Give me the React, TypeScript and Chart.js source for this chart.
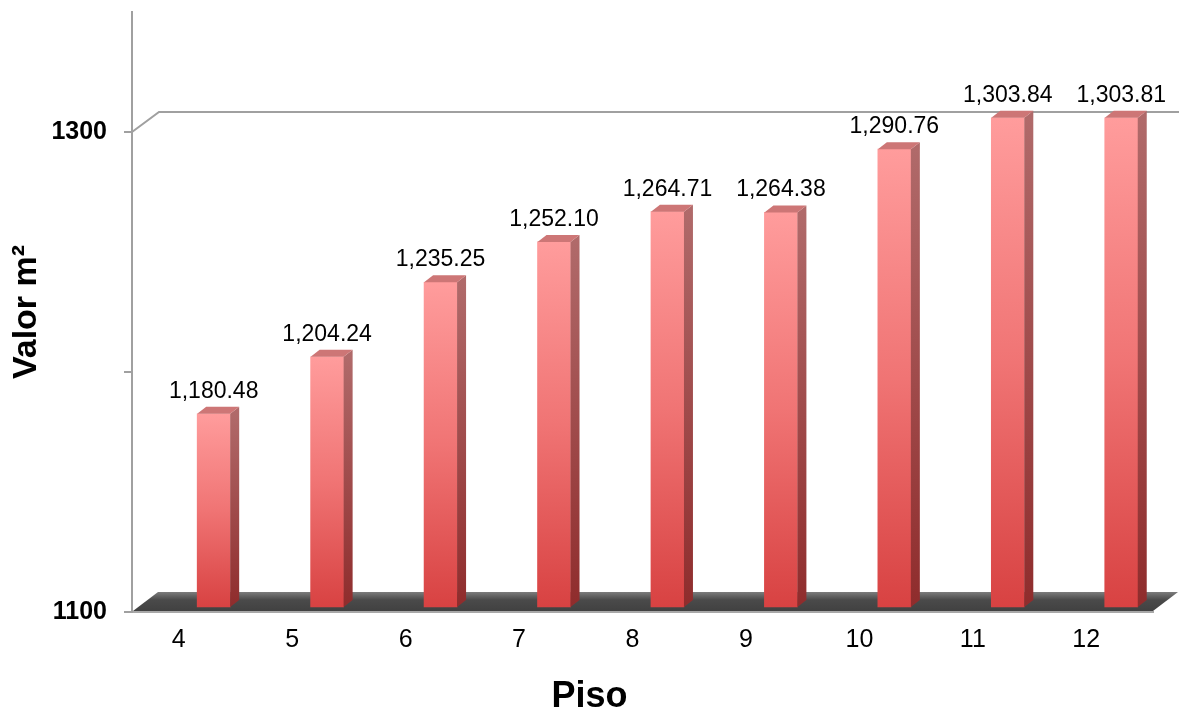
import { useEffect, useRef } from 'react';
import { Chart, registerables } from 'chart.js';

Chart.register(...registerables);

// Floor numbers and the value per square metre of each floor
const FLOORS = ['4', '5', '6', '7', '8', '9', '10', '11', '12'];
const VALUES = [1180.48, 1204.24, 1235.25, 1252.1, 1264.71, 1264.38, 1290.76, 1303.84, 1303.81];

// Value axis
const Y_MIN = 1100;
const Y_MAX = 1350;
const Y_STEP = 100;
const Y_TICK_LABELS = [1100, 1300];
const BACK_GRID_VALUES = [1300];

// Depth of the floor and back wall (px)
const WALL_DX = 27;
const WALL_DY = 20;
// Depth of each bar box (px)
const BAR_DX = 9;
const BAR_DY = 7;
// Bars stand part-way back on the floor: shift in categories / value units
const BAR_SHIFT_CAT = 0.22;
const BAR_SHIFT_VAL = 2.1;

const fmt = (v: number) =>
  v.toLocaleString('en-US', { minimumFractionDigits: 2, maximumFractionDigits: 2 });

const depthPlugin = {
  id: 'depth',
  beforeDatasetsDraw(chart: any) {
    const { ctx, chartArea, scales } = chart;
    const y = scales.y;
    const yBase = y.getPixelForValue(Y_MIN);
    ctx.save();
    // floor
    const fg = ctx.createLinearGradient(0, yBase - WALL_DY, 0, yBase);
    fg.addColorStop(0, '#7c7c7c');
    fg.addColorStop(0.4, '#4a4a4a');
    fg.addColorStop(1, '#404040');
    ctx.fillStyle = fg;
    ctx.beginPath();
    ctx.moveTo(chartArea.left + 1, yBase - 1);
    ctx.lineTo(chartArea.right, yBase - 1);
    ctx.lineTo(chartArea.right + WALL_DX - 2, yBase - WALL_DY);
    ctx.lineTo(chartArea.left + WALL_DX - 1, yBase - WALL_DY);
    ctx.closePath();
    ctx.fill();
    // back-wall gridlines
    ctx.strokeStyle = '#a0a0a0';
    ctx.lineWidth = 2;
    BACK_GRID_VALUES.forEach((v) => {
      const py = y.getPixelForValue(v);
      ctx.beginPath();
      ctx.moveTo(chartArea.left, py);
      ctx.lineTo(chartArea.left + WALL_DX, py - WALL_DY);
      ctx.lineTo(chart.width, py - WALL_DY);
      ctx.stroke();
    });
    ctx.restore();
  },
  afterDatasetsDraw(chart: any) {
    const { ctx } = chart;
    const meta = chart.getDatasetMeta(0);
    ctx.save();
    meta.data.forEach((bar: any, i: number) => {
      const { x, y, base, width } = bar.getProps(['x', 'y', 'base', 'width'], true);
      const l = x - width / 2;
      const r = x + width / 2;
      // side face
      const sg = ctx.createLinearGradient(0, y, 0, base);
      sg.addColorStop(0, '#b06a6a');
      sg.addColorStop(1, '#8f2c2c');
      ctx.fillStyle = sg;
      ctx.beginPath();
      ctx.moveTo(r, y);
      ctx.lineTo(r + BAR_DX, y - BAR_DY);
      ctx.lineTo(r + BAR_DX, base - BAR_DY);
      ctx.lineTo(r, base);
      ctx.closePath();
      ctx.fill();
      // top face
      ctx.fillStyle = '#cd7676';
      ctx.beginPath();
      ctx.moveTo(l, y);
      ctx.lineTo(l + BAR_DX, y - BAR_DY);
      ctx.lineTo(r + BAR_DX, y - BAR_DY);
      ctx.lineTo(r, y);
      ctx.closePath();
      ctx.fill();
      // value label
      ctx.fillStyle = '#000';
      ctx.font = '23px "Liberation Sans", Arial, sans-serif';
      ctx.textAlign = 'center';
      ctx.textBaseline = 'alphabetic';
      ctx.fillText(fmt(VALUES[i]), x, y - 16);
    });
    ctx.restore();
  },
};

export default function App() {
  const canvasRef = useRef<HTMLCanvasElement | null>(null);

  useEffect(() => {
    if (!canvasRef.current) return;
    Chart.defaults.font.family = '"Liberation Sans", Arial, sans-serif';
    const chart = new Chart(canvasRef.current, {
      type: 'bar',
      data: {
        labels: FLOORS,
        datasets: [
          {
            label: 'Valor m²',
            data: VALUES.map((v, i) => ({ x: i, y: v })),
            xAxisID: 'xb',
            yAxisID: 'yb',
            base: Y_MIN,
            barThickness: 33,
            borderWidth: 0,
            backgroundColor: (c: any) => {
              const chart = c.chart;
              const ys = chart.scales?.yb;
              if (!ys || c.dataIndex === undefined) return '#e86060';
              const top = ys.getPixelForValue(VALUES[c.dataIndex]);
              const bottom = ys.getPixelForValue(Y_MIN);
              if (!isFinite(top) || !isFinite(bottom)) return '#e86060';
              const g = chart.ctx.createLinearGradient(0, top, 0, bottom);
              g.addColorStop(0, '#ff9c9c');
              g.addColorStop(0.5, '#f07474');
              g.addColorStop(1, '#d84242');
              return g;
            },
          } as any,
        ],
      },
      options: {
        animation: false,
        responsive: false,
        layout: { padding: { top: 12, right: 0, left: 0, bottom: 0 } },
        plugins: {
          legend: { display: false },
          tooltip: { enabled: false },
          title: {
            display: true,
            position: 'bottom',
            text: 'Piso',
            color: '#000',
            font: { size: 36, weight: 'bold', lineHeight: 1 },
            padding: 0,
          },
        },
        scales: {
          x: {
            type: 'category',
            position: 'bottom',
            offset: true,
            grid: { display: false, drawTicks: false, offset: true },
            border: { color: '#a8a8a8', width: 2 },
            ticks: {
              color: '#000',
              font: { size: 25 },
              padding: 13,
              labelOffset: -10,
              maxRotation: 0,
              autoSkip: false,
            },
            afterFit: (s: any) => {
              s.height = 67;
              s.paddingLeft = 0;
              s.paddingRight = 0;
            },
          },
          xb: {
            type: 'linear',
            display: false,
            offset: false,
            grid: { offset: false },
            min: -0.5 - BAR_SHIFT_CAT,
            max: FLOORS.length - 0.5 - BAR_SHIFT_CAT,
          },
          y: {
            type: 'linear',
            position: 'left',
            min: Y_MIN,
            max: Y_MAX,
            ticks: {
              stepSize: Y_STEP,
              includeBounds: false,
              padding: 17,
              color: '#000',
              font: { size: 25, weight: 'bold' },
              callback: (v: any) => (Y_TICK_LABELS.includes(Number(v)) ? String(v) : ''),
            },
            grid: { drawOnChartArea: false, drawTicks: true, tickLength: 8, color: '#a0a0a0', lineWidth: 2 },
            border: { color: '#a0a0a0', width: 2 },
            title: {
              display: true,
              text: 'Valor m²',
              color: '#000',
              font: { size: 34, weight: 'bold' },
              padding: { top: 6, bottom: 0 },
            },
            afterFit: (s: any) => {
              s.width = 132;
              s.paddingTop = 0;
              s.paddingBottom = 0;
            },
          },
          yb: {
            type: 'linear',
            position: 'right',
            display: true,
            min: Y_MIN - BAR_SHIFT_VAL,
            max: Y_MAX - BAR_SHIFT_VAL,
            ticks: { display: false },
            grid: { display: false, drawTicks: false },
            border: { display: false },
            afterFit: (s: any) => {
              s.width = 26;
              s.paddingTop = 0;
              s.paddingBottom = 0;
            },
          },
        },
      } as any,
      plugins: [depthPlugin],
    });
    return () => chart.destroy();
  }, []);

  return (
    <div style={{ position: 'absolute', left: 0, top: 0, width: 1179, height: 715, background: '#fff' }}>
      <canvas ref={canvasRef} width={1179} height={715} style={{ display: 'block' }} />
    </div>
  );
}
